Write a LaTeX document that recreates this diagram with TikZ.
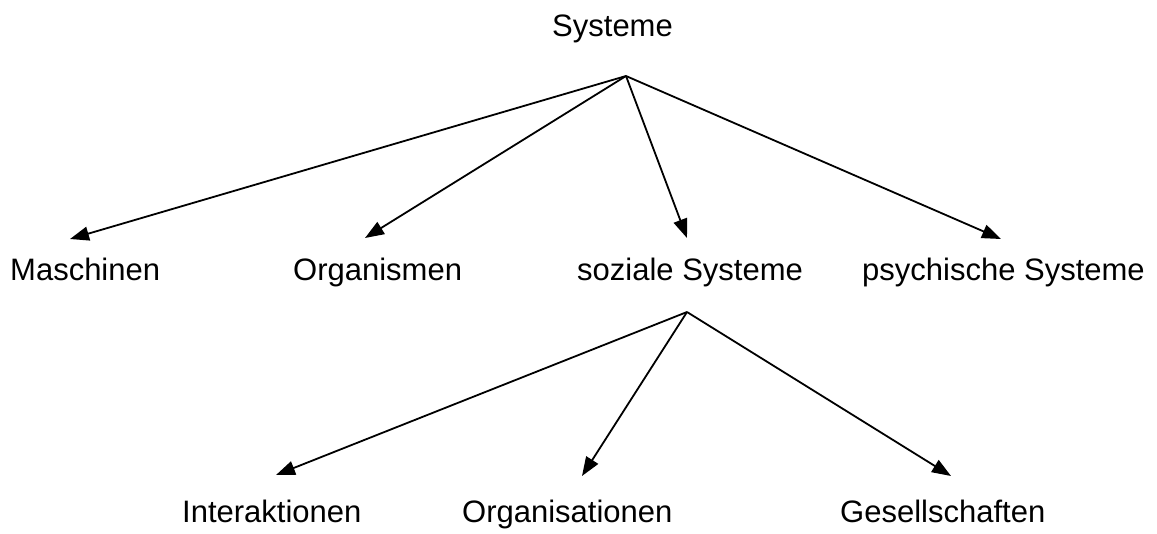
\documentclass[tikz,border=0pt]{standalone}
\usepackage{fontspec}
\setmainfont{Liberation Sans}
\usetikzlibrary{arrows.meta}
\begin{document}
\begin{tikzpicture}[x=1pt,y=-1pt,
  lbl/.style={anchor=base west,inner sep=0pt,font=\fontsize{31}{37}\selectfont},
  conn/.style={line width=1.8pt,-{Triangle[length=19pt,width=14pt]}}]
\useasboundingbox (0,0) rectangle (1157,533);
% labels
\node[lbl] (sys) at (552,36) {Systeme};
\node[lbl] (mas) at (10,280) {Maschinen};
\node[lbl] (org) at (293,280) {Organismen};
\node[lbl] (soz) at (577,280) {soziale Systeme};
\node[lbl] (psy) at (862,280) {psychische Systeme};
\node[lbl] (int) at (182,522) {Interaktionen};
\node[lbl] (ors) at (462,522) {Organisationen};
\node[lbl] (ges) at (840,522) {Gesellschaften};
% junctions and arrow tips
\coordinate (j1) at (626,76);
\coordinate (j2) at (687,312);
\coordinate (tmas) at (70,239);
\coordinate (torg) at (365,238);
\coordinate (tsoz) at (687,238);
\coordinate (tpsy) at (1001,239);
\coordinate (tint) at (276,475);
\coordinate (tors) at (582,476);
\coordinate (tges) at (951,476);
% connectors
\draw[conn] (j1) -- (tmas);
\draw[conn] (j1) -- (torg);
\draw[conn] (j1) -- (tsoz);
\draw[conn] (j1) -- (tpsy);
\draw[conn] (j2) -- (tint);
\draw[conn] (j2) -- (tors);
\draw[conn] (j2) -- (tges);
\end{tikzpicture}
\end{document}
